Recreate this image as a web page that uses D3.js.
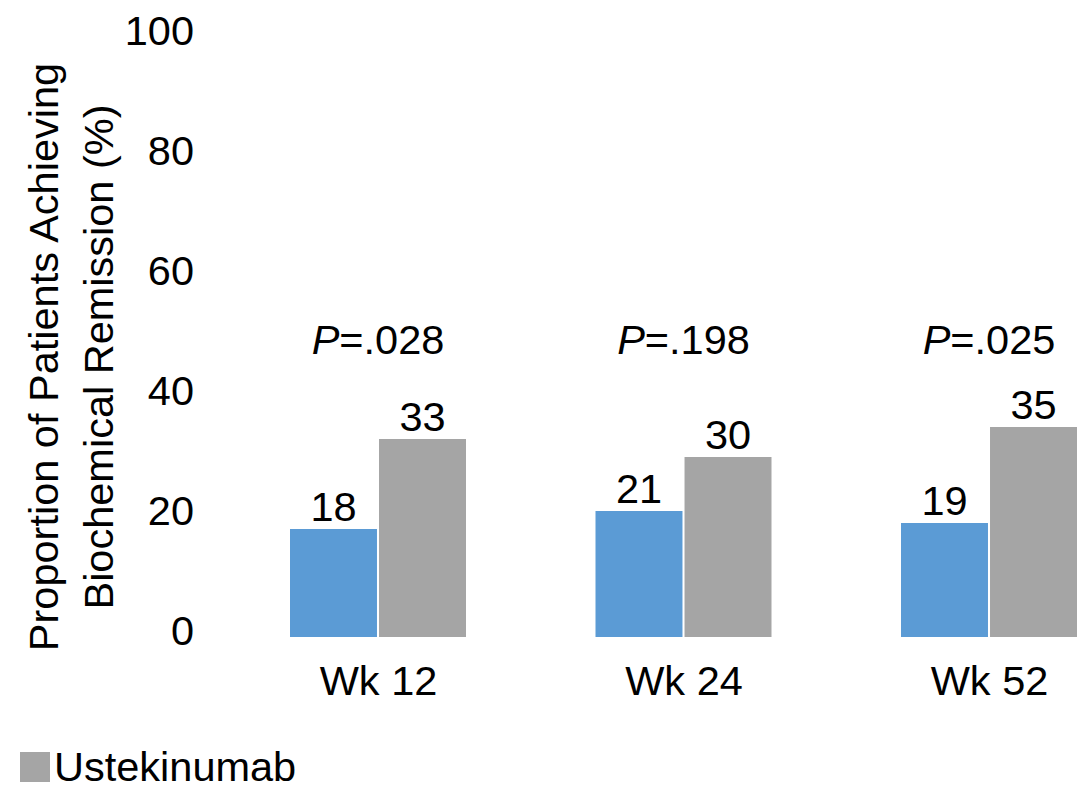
<!DOCTYPE html>
<html>
<head>
<meta charset="utf-8">
<script src="https://cdn.jsdelivr.net/npm/d3@7"></script>
<style>
  html, body { margin: 0; padding: 0; background: #fff; }
  svg { display: block; font-family: "Liberation Sans", Arial, sans-serif; }
</style>
</head>
<body>
<svg id="chart" width="1091" height="787"></svg>
<script>
// Biochemical remission by visit week
const categories = ["Wk 12", "Wk 24", "Wk 52"];
const seriesNames = ["Comparator", "Ustekinumab"];
const comparatorValues = [18, 21, 19];
const ustekinumabValues = [33, 30, 35];
const pValues = [".028", ".198", ".025"];
const yTicks = [0, 20, 40, 60, 80, 100];
const seriesColors = ["#5B9BD5", "#A5A5A5"];

const rows = categories.map((c, i) => ({
  category: c,
  p: pValues[i],
  values: [comparatorValues[i], ustekinumabValues[i]]
}));

const svg = d3.select("#chart");
const FONT = 41.5;

const y = d3.scaleLinear().domain([0, 100]).range([637, 37]);
const xGroup = d3.scalePoint().domain(categories).range([378, 989]);
const xSeries = d3.scaleBand().domain(seriesNames).range([-88, 88]).paddingInner(0.023);

// Y axis: labels only
const yAxis = svg.append("g")
  .attr("transform", "translate(200,0)")
  .call(d3.axisLeft(y).tickValues(yTicks).tickSize(0).tickPadding(6).tickFormat(d3.format("d")));
yAxis.select(".domain").remove();
yAxis.selectAll("text")
  .attr("dy", "0.17em")
  .attr("font-size", FONT)
  .attr("font-family", "Liberation Sans, Arial, sans-serif")
  .attr("fill", "#000");

// X axis: category labels only
const xAxis = svg.append("g")
  .attr("transform", "translate(0,637)")
  .call(d3.axisBottom(xGroup).tickSize(0).tickPadding(29));
xAxis.select(".domain").remove();
xAxis.selectAll("text")
  .attr("font-size", FONT)
  .attr("font-family", "Liberation Sans, Arial, sans-serif")
  .attr("fill", "#000");

// Bars
const groups = svg.append("g").selectAll("g")
  .data(rows)
  .join("g")
  .attr("transform", d => `translate(${xGroup(d.category)},0)`);

groups.selectAll("rect")
  .data(d => d.values.map((v, j) => ({ series: seriesNames[j], value: v, j })))
  .join("rect")
  .attr("x", d => xSeries(d.series))
  .attr("width", xSeries.bandwidth())
  .attr("y", d => y(d.value))
  .attr("height", d => y(0) - y(d.value))
  .attr("fill", d => seriesColors[d.j]);

// Value labels above bars
groups.selectAll("text.value")
  .data(d => d.values.map((v, j) => ({ series: seriesNames[j], value: v })))
  .join("text")
  .attr("class", "value")
  .attr("x", d => xSeries(d.series) + xSeries.bandwidth() / 2)
  .attr("y", d => y(d.value) - 8)
  .attr("text-anchor", "middle")
  .attr("font-size", FONT)
  .attr("fill", "#000")
  .text(d => d.value);

// P-values above each group
const pText = groups.append("text")
  .attr("x", 0)
  .attr("y", 354)
  .attr("text-anchor", "middle")
  .attr("font-size", FONT)
  .attr("fill", "#000");
pText.append("tspan").attr("font-style", "italic").text("P");
pText.append("tspan").text(d => "=" + d.p);

// Y axis title (two lines)
const title = svg.append("text")
  .attr("transform", "translate(0,357) rotate(-90)")
  .attr("text-anchor", "middle")
  .attr("font-size", FONT)
  .attr("fill", "#000");
title.append("tspan").attr("x", 0).attr("y", 58).text("Proportion of Patients Achieving");
title.append("tspan").attr("x", 0).attr("y", 113).text("Biochemical Remission (%)");

// Legend
const legend = svg.append("g").attr("transform", "translate(20,752)");
legend.append("rect")
  .attr("width", 30).attr("height", 30)
  .attr("fill", seriesColors[1]);
legend.append("text")
  .attr("x", 34).attr("y", 29)
  .attr("font-size", FONT)
  .attr("fill", "#000")
  .text(seriesNames[1]);
</script>
</body>
</html>
